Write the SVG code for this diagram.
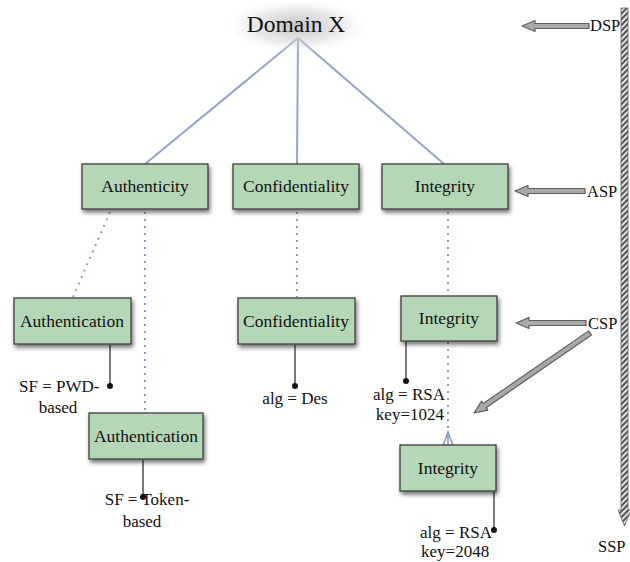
<svg xmlns="http://www.w3.org/2000/svg" width="630" height="562" viewBox="0 0 630 562">
  <defs>
    <style>
      text { font-family: "Liberation Serif", "Times New Roman", serif; fill: #111; }
      .box { fill: #b6d6b8; stroke: #3e3e3e; stroke-width: 1.3; filter: url(#shadow); }
      .lbl { font-size: 17.5px; text-anchor: middle; }
      .attr { font-size: 17px; }
      .tree { stroke: #95a3c8; stroke-width: 2; fill: none; }
      .dot { stroke: #8e9cc4; stroke-width: 2; stroke-dasharray: 2 5; fill: none; }
      .stem { stroke: #222; stroke-width: 1.2; }
      .pin { fill: #111; }
      .blk { fill: #a9a9a9; stroke: #5e5e5e; stroke-width: 1.2; stroke-linejoin: round; }
      .lvl { font-size: 16.5px; }
    </style>
    <filter id="shadow" x="-20%" y="-20%" width="140%" height="160%">
      <feDropShadow dx="1.5" dy="3" stdDeviation="2.2" flood-color="#000" flood-opacity="0.55"/>
    </filter>
    <radialGradient id="glow" cx="0.5" cy="0.5" r="0.5">
      <stop offset="0" stop-color="#bcbcbc" stop-opacity="0.9"/>
      <stop offset="0.6" stop-color="#d6d6d6" stop-opacity="0.5"/>
      <stop offset="1" stop-color="#ffffff" stop-opacity="0"/>
    </radialGradient>
    <pattern id="hatch" width="4" height="4" patternUnits="userSpaceOnUse" patternTransform="rotate(45)">
      <rect width="4" height="4" fill="#e0e0e0"/>
      <rect width="2" height="4" fill="#555"/>
    </pattern>
  </defs>

  <!-- tree connectors -->
  <g id="connectors">
    <line class="tree" x1="298" y1="38" x2="145" y2="164"/>
    <line class="tree" x1="298" y1="38" x2="297" y2="164"/>
    <line class="tree" x1="298" y1="38" x2="444" y2="164"/>
    <line class="dot" x1="110" y1="212" x2="73" y2="297"/>
    <line class="dot" x1="145" y1="212" x2="145" y2="412"/>
    <line class="dot" x1="297" y1="212" x2="297" y2="297"/>
    <line class="dot" x1="448" y1="212" x2="448" y2="296"/>
    <line class="dot" x1="448" y1="342" x2="448" y2="432"/>
    <path d="M443 446 L448 432 L453 446 M448 432 L448 446" fill="none" stroke="#8e9cc4" stroke-width="1.6"/>
    <!-- attribute stems -->
    <line class="stem" x1="110" y1="345" x2="110" y2="386"/>
    <circle class="pin" cx="110" cy="386" r="3"/>
    <line class="stem" x1="295" y1="345" x2="295" y2="386"/>
    <circle class="pin" cx="295" cy="386" r="3"/>
    <line class="stem" x1="406" y1="342" x2="406" y2="381"/>
    <circle class="pin" cx="406" cy="381" r="3"/>
    <line class="stem" x1="143" y1="460" x2="143" y2="497"/>
    <circle class="pin" cx="143" cy="497" r="3"/>
    <line class="stem" x1="494" y1="492" x2="494" y2="530"/>
    <circle class="pin" cx="494" cy="530" r="3"/>
  </g>

  <!-- root -->
  <g id="domain-x">
    <ellipse cx="297" cy="26" rx="75" ry="28" fill="url(#glow)"/>
    <text x="296" y="32" font-size="23.5" text-anchor="middle">Domain X</text>
  </g>

  <!-- level 1 -->
  <g id="authenticity">
    <rect class="box" x="82" y="164" width="126" height="45"/>
    <text class="lbl" x="145" y="192">Authenticity</text>
  </g>
  <g id="confidentiality">
    <rect class="box" x="233" y="164" width="126" height="45"/>
    <text class="lbl" x="296" y="192">Confidentiality</text>
  </g>
  <g id="integrity">
    <rect class="box" x="382" y="164" width="126" height="45"/>
    <text class="lbl" x="445" y="192">Integrity</text>
  </g>

  <!-- level 2 -->
  <g id="authentication-pwd">
    <rect class="box" x="14" y="298" width="117" height="46"/>
    <text class="lbl" x="72" y="327">Authentication</text>
    <text class="attr" x="19" y="392">SF = PWD-</text>
    <text class="attr" x="58" y="413" text-anchor="middle">based</text>
  </g>
  <g id="confidentiality-des">
    <rect class="box" x="238" y="298" width="117" height="46"/>
    <text class="lbl" x="296" y="327">Confidentiality</text>
    <text class="attr" x="295" y="404" text-anchor="middle">alg = Des</text>
  </g>
  <g id="integrity-1024">
    <rect class="box" x="401" y="296" width="96" height="45"/>
    <text class="lbl" x="449" y="324">Integrity</text>
    <text class="attr" x="445" y="400" text-anchor="end">alg = RSA</text>
    <text class="attr" x="444" y="420" text-anchor="end">key=1024</text>
  </g>

  <!-- level 3 -->
  <g id="authentication-token">
    <rect class="box" x="89" y="413" width="114" height="46"/>
    <text class="lbl" x="146" y="442">Authentication</text>
    <text class="attr" x="147" y="505" text-anchor="middle">SF = Token-</text>
    <text class="attr" x="142" y="527" text-anchor="middle">based</text>
  </g>
  <g id="integrity-2048">
    <rect class="box" x="400" y="445" width="96" height="46"/>
    <text class="lbl" x="448" y="474">Integrity</text>
    <text class="attr" x="492" y="538" text-anchor="end">alg = RSA</text>
    <text class="attr" x="421" y="557">key=2048</text>
  </g>

  <!-- specification levels -->
  <g id="levels">
    <path d="M621 8 L628 8 L628 510 L631 510 L624.5 526 L618 510 L621 510 Z" fill="url(#hatch)" stroke="#666" stroke-width="0.8"/>
    <path class="blk" d="M522 26 L535 20.5 L535 23.5 L589 23.5 L589 28.5 L535 28.5 L535 31.5 Z"/>
    <text class="lvl" x="590" y="31">DSP</text>
    <path class="blk" d="M515 191 L528 185.5 L528 188.5 L585 188.5 L585 193.5 L528 193.5 L528 196.5 Z"/>
    <text class="lvl" x="587" y="197">ASP</text>
    <path class="blk" d="M516 323 L529 317.5 L529 320.5 L586 320.5 L586 325.5 L529 325.5 L529 328.5 Z"/>
    <text class="lvl" x="588" y="329">CSP</text>
    <g transform="translate(474,413) rotate(-34.6)">
      <path class="blk" d="M0 0 L13 -5.5 L13 -2.5 L141 -2.5 L141 2.5 L13 2.5 L13 5.5 Z"/>
    </g>
    <text class="lvl" x="598" y="552">SSP</text>
  </g>
</svg>
